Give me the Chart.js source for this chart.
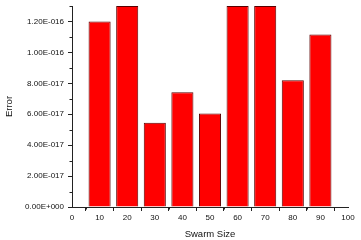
<!DOCTYPE html>
<html>
<head>
<meta charset="utf-8">
<script src="https://cdn.jsdelivr.net/npm/chart.js@4/dist/chart.umd.min.js"></script>
<style>
html,body{margin:0;padding:0;background:#fff;}
#wrap{width:361px;height:240px;}
</style>
</head>
<body>
<div id="wrap"><canvas id="c" width="361" height="240"></canvas></div>
<script>
const swarmSizes = [10, 20, 30, 40, 50, 60, 70, 80, 90];
const errors = [1.2e-16, 1.3e-16, 5.45e-17, 7.42e-17, 6.05e-17, 1.3e-16, 1.3e-16, 8.2e-17, 1.115e-16];
const yTicks = [0, 2e-17, 4e-17, 6e-17, 8e-17, 1e-16, 1.2e-16];
const yMinorTicks = [1e-17, 3e-17, 5e-17, 7e-17, 9e-17, 1.1e-16, 1.3e-16];
const xTicks = [0, 10, 20, 30, 40, 50, 60, 70, 80, 90, 100];
const xMinorTicks = [5, 15, 25, 35, 45, 55, 65, 75, 85, 95];

function fmt(v) {
  if (Math.abs(v) < 1e-30) return '0.00E+000';
  const parts = v.toExponential(2).split('e');
  const sign = parts[1][0];
  const digits = parts[1].slice(1).padStart(3, '0');
  return parts[0] + 'E' + sign + digits;
}

const FONT = "'Liberation Sans', Arial, sans-serif";
const AXIS = '#222';
const TEXT = '#111';

const minorTicks = {
  id: 'minorTicks',
  afterDraw(chart) {
    const ctx = chart.ctx;
    const xs = chart.scales.x, ys = chart.scales.y;
    const a = chart.chartArea;
    ctx.save();
    ctx.strokeStyle = AXIS;
    ctx.lineWidth = 1;
    ctx.beginPath();
    yMinorTicks.forEach(v => {
      const p = Math.round(ys.getPixelForValue(v)) + 0.5;
      ctx.moveTo(a.left - 2.5, p); ctx.lineTo(a.left, p);
    });
    xMinorTicks.forEach(v => {
      const p = Math.round(xs.getPixelForValue(v)) + 0.5;
      ctx.moveTo(p, a.bottom); ctx.lineTo(p, a.bottom + 2.5);
    });
    ctx.stroke();
    ctx.restore();
  }
};

new Chart(document.getElementById('c'), {
  type: 'bar',
  data: {
    datasets: [{
      data: swarmSizes.map((x, i) => ({x: x, y: errors[i]})),
      backgroundColor: '#ff0000',
      borderColor: '#5a0000',
      borderWidth: 1,
      barPercentage: 0.8,
      categoryPercentage: 1.0
    }]
  },
  options: {
    responsive: false,
    animation: false,
    layout: {padding: {left: 4, right: 13, top: 6, bottom: 0}},
    plugins: {legend: {display: false}, tooltip: {enabled: false}},
    scales: {
      x: {
        type: 'linear',
        min: 0, max: 100,
        offset: false,
        afterBuildTicks: s => { s.ticks = xTicks.map(v => ({value: v})); },
        afterFit: s => { s.height = 33; },
        grid: {drawOnChartArea: false, tickLength: 4, color: AXIS, tickColor: AXIS},
        border: {color: AXIS, width: 1},
        ticks: {color: TEXT, font: {family: FONT, size: 8}, padding: 2, maxRotation: 0, autoSkip: false},
        title: {display: true, text: 'Swarm Size', color: TEXT, font: {family: FONT, size: 9.5}, padding: {top: 2, bottom: 0}}
      },
      y: {
        min: 0, max: 1.3e-16,
        afterBuildTicks: s => { s.ticks = yTicks.map(v => ({value: v})); },
        afterFit: s => { s.width = 68; s.paddingTop = 0; s.paddingBottom = 0; },
        grid: {drawOnChartArea: false, tickLength: 4, color: AXIS, tickColor: AXIS},
        border: {color: AXIS, width: 1},
        ticks: {color: TEXT, font: {family: FONT, size: 8}, padding: 4, autoSkip: false, callback: v => fmt(v)},
        title: {display: true, text: 'Error', color: TEXT, font: {family: FONT, size: 9.5}, padding: {top: 0, bottom: 0}}
      }
    }
  },
  plugins: [minorTicks]
});
</script>
</body>
</html>
